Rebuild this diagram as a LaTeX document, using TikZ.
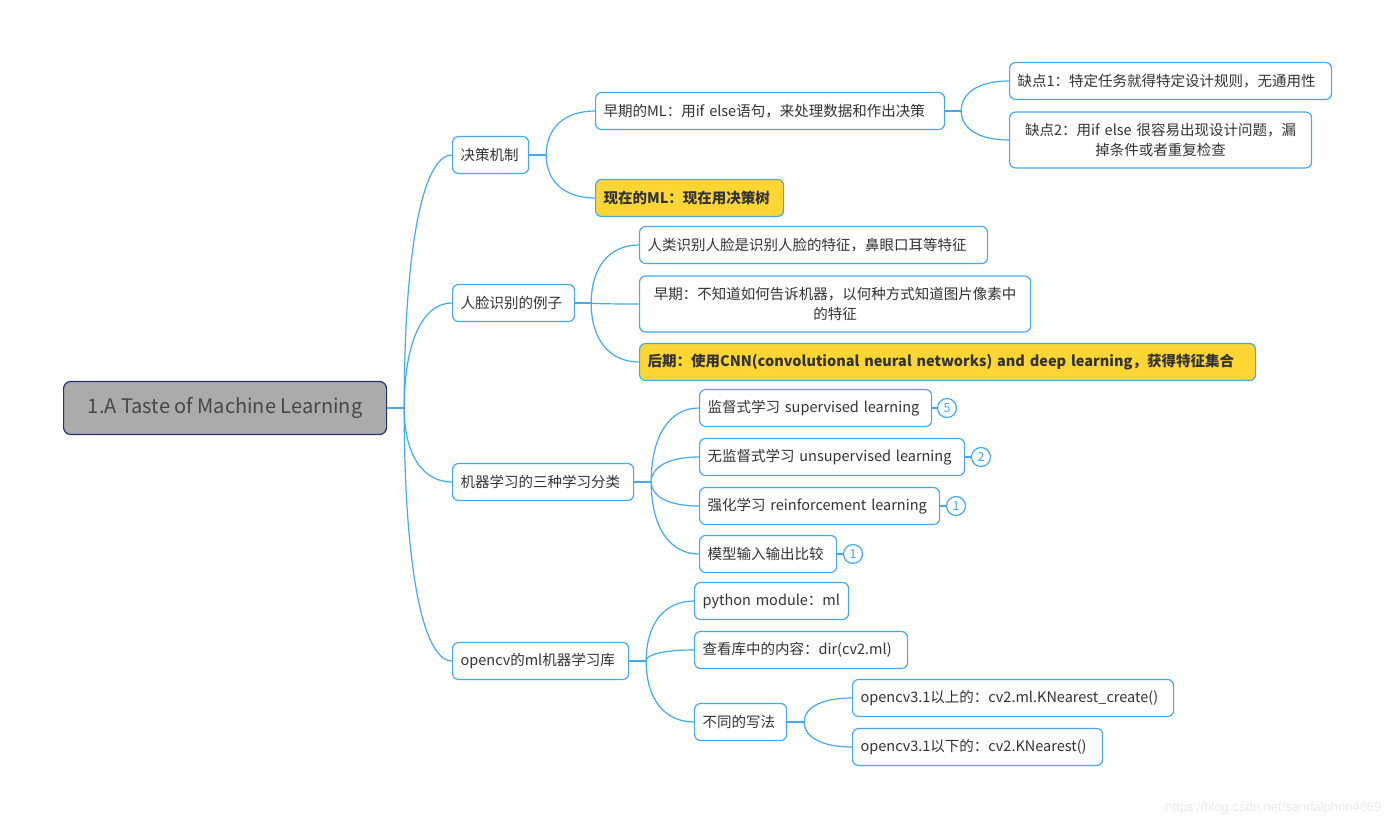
\documentclass[tikz,border=0pt]{standalone}
\usepackage{fontspec}
\setmainfont{Noto Sans CJK SC}
\newfontfamily\wmfont{Liberation Sans}
\usetikzlibrary{calc}
\definecolor{mmblue}{RGB}{66,170,245}
\definecolor{mmyellow}{RGB}{253,214,51}
\definecolor{mmtext}{RGB}{51,51,51}
\definecolor{rootfill}{RGB}{171,171,171}
\definecolor{rootline}{RGB}{42,46,126}

\begin{document}
\begin{tikzpicture}[x=1pt,y=-1pt,
  topic/.style={draw=mmblue,line width=1.2pt,rounded corners=6pt,fill=white,text=mmtext,
    anchor=west,minimum height=37pt,inner xsep=8pt,inner ysep=2pt,align=left,
    font=\fontsize{14.5}{20}\selectfont},
  hot/.style={topic,fill=mmyellow,font=\fontsize{14.5}{20}\selectfont\bfseries},
  badge/.style={circle,draw=mmblue,line width=1.2pt,text=mmblue,fill=white,
    minimum size=19pt,inner sep=0pt,font=\fontsize{12.5}{12.5}\selectfont},
  link/.style={draw=mmblue,line width=1.2pt},
  branch/.style={to path={.. controls ($(\tikztostart)!0.62!(\tikztostart |- \tikztotarget)$)
    and ($(\tikztotarget)!0.62!(\tikztostart |- \tikztotarget)$) .. (\tikztotarget)}}]
  \useasboundingbox (0,0) rectangle (1393,828);

  % root
  \node[draw=rootline,fill=rootfill,line width=1.2pt,rounded corners=7pt,text=mmtext!90,
    minimum width=323pt,minimum height=53pt,anchor=west,font=\fontsize{20}{24}\selectfont]
    (root) at (63,408) {1.A Taste of Machine Learning};

  % first level
  \node[topic,text width=60pt]  (jc) at (452,155) {决策机制};
  \node[topic,text width=106pt] (rl) at (452,303) {人脸识别的例子};
  \node[topic,text width=165pt] (fl) at (452,482) {机器学习的三种学习分类};
  \node[topic,text width=160pt] (cv) at (452,661) {opencv的ml机器学习库};

  % 决策机制
  \node[topic,text width=333pt] (zq) at (595,111) {早期的ML：用if else语句，来处理数据和作出决策};
  \node[hot,text width=172pt]   (xz) at (595,198) {现在的ML：现在用决策树};
  \node[topic,text width=306pt] (qd1) at (1009,81) {缺点1：特定任务就得特定设计规则，无通用性};
  \node[topic,text width=286pt,minimum height=56pt,align=center] (qd2) at (1009,140)
    {缺点2：用if else 很容易出现设计问题，漏\\掉条件或者重复检查};

  % 人脸识别
  \node[topic,text width=332pt] (rl1) at (639,245) {人类识别人脸是识别人脸的特征，鼻眼口耳等特征};
  \node[topic,text width=375pt,minimum height=56pt,align=center] (rl2) at (639,304)
    {早期：不知道如何告诉机器，以何种方式知道图片像素中\\的特征};
  \node[hot,text width=600pt] (rl3) at (639,362)
    {后期：使用CNN(convolutional neural networks) and deep learning，获得特征集合};

  % 三种分类
  \node[topic,text width=216pt] (sup) at (699,408) {监督式学习 supervised learning};
  \node[topic,text width=249pt] (uns) at (699,457) {无监督式学习 unsupervised learning};
  \node[topic,text width=224pt] (rei) at (699,506) {强化学习 reinforcement learning};
  \node[topic,text width=121pt] (mx)  at (699,554) {模型输入输出比较};
  \node[badge] (b5) at (947,408) {5};
  \node[badge] (b2) at (981,457) {2};
  \node[badge] (b1) at (956,506) {1};
  \node[badge] (b0) at (853,554) {1};

  % opencv
  \node[topic,text width=138pt] (pm) at (694,601) {python module：ml};
  \node[topic,text width=197pt] (ck) at (694,650) {查看库中的内容：dir(cv2.ml)};
  \node[topic,text width=76pt]  (bt) at (694,722) {不同的写法};
  \node[topic,text width=305pt] (ys) at (852,698) {opencv3.1以上的：cv2.ml.KNearest\_create()};
  \node[topic,text width=234pt] (yx) at (852,747) {opencv3.1以下的：cv2.KNearest()};

  % connectors
  \draw[link] (root.east) -- ++(17,0) coordinate (rb);
  \foreach \n in {jc,rl,fl,cv} \draw[link] (rb) to[branch] (\n.west);
  \draw[link] (jc.east) -- ++(17,0) coordinate (jcb);
  \foreach \n in {zq,xz} \draw[link] (jcb) to[branch] (\n.west);
  \draw[link] (zq.east) -- ++(16,0) coordinate (zqb);
  \foreach \n in {qd1,qd2} \draw[link] (zqb) to[branch] (\n.west);
  \draw[link] (rl.east) -- ++(16,0) coordinate (rlb);
  \foreach \n in {rl1,rl2,rl3} \draw[link] (rlb) to[branch] (\n.west);
  \draw[link] (fl.east) -- ++(17,0) coordinate (flb);
  \foreach \n in {sup,uns,rei,mx} \draw[link] (flb) to[branch] (\n.west);
  \draw[link] (cv.east) -- ++(17,0) coordinate (cvb);
  \foreach \n in {pm,ck,bt} \draw[link] (cvb) to[branch] (\n.west);
  \draw[link] (bt.east) -- ++(17,0) coordinate (btb);
  \foreach \n in {ys,yx} \draw[link] (btb) to[branch] (\n.west);
  \draw[link] (sup.east) -- (b5.west);
  \draw[link] (uns.east) -- (b2.west);
  \draw[link] (rei.east) -- (b1.west);
  \draw[link] (mx.east) -- (b0.west);

  \node[anchor=east,text=black!8,font=\wmfont\fontsize{13}{13}\selectfont] (wm) at (1385,808)
    {https://blog.csdn.net/sandalphon4869};
\end{tikzpicture}
\end{document}
